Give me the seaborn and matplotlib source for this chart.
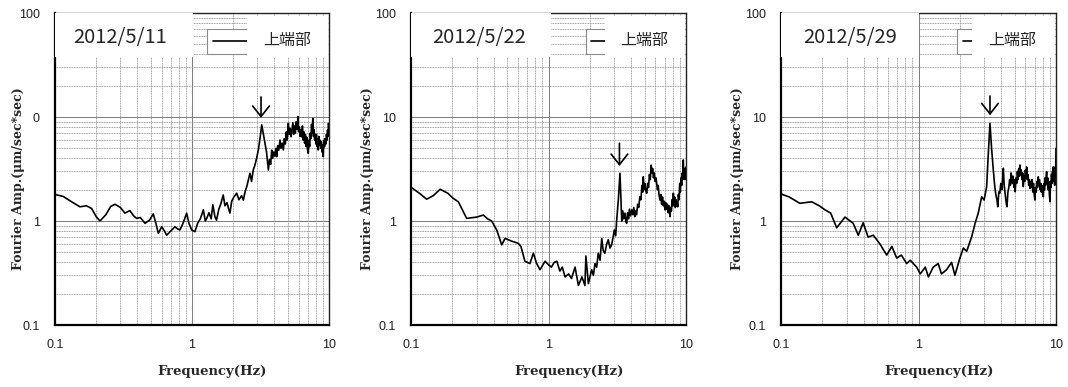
import numpy as np
import pandas as pd
import matplotlib
matplotlib.use('Agg')
import matplotlib.pyplot as plt
import seaborn as sns
from matplotlib.patches import Rectangle
from matplotlib.ticker import FixedLocator, LogLocator, NullFormatter

# ---- data ----
dates = ['2012/5/11', '2012/5/22', '2012/5/29']
series_name = '上端部'
x_ticks = [0.1, 1, 10]
x_tick_labels = ['0.1', '1', '10']
y_ticks = [0.1, 1, 10, 100]
y_tick_labels = [['0.1', '1', '0', '100'],
                 ['0.1', '1', '10', '100'],
                 ['0.1', '1', '10', '100']]

freq_a = [0.100, 0.115, 0.130, 0.152, 0.170, 0.185, 0.200, 0.213, 0.235, 0.255,
          0.274, 0.300, 0.324, 0.352, 0.375, 0.394, 0.420, 0.454, 0.490, 0.522,
          0.545, 0.568, 0.601, 0.630, 0.653, 0.700, 0.751, 0.785, 0.817, 0.860,
          0.914, 0.950, 0.995, 1.05, 1.10, 1.15, 1.21, 1.25, 1.28, 1.33,
          1.38, 1.42, 1.47, 1.51, 1.57, 1.62, 1.69, 1.74, 1.80, 1.89,
          1.95, 2.02, 2.12, 2.20, 2.30, 2.37, 2.45, 2.51, 2.58, 2.65,
          2.72, 2.80, 2.88, 2.96, 3.05, 3.15, 3.23, 3.32, 3.41, 3.50,
          3.61, 3.68, 3.75, 3.82, 3.88, 3.95, 4.02, 4.10, 4.15, 4.22,
          4.30, 4.39, 4.46, 4.55, 4.64, 4.72, 4.80, 4.88, 4.95, 5.05,
          5.12, 5.20, 5.28, 5.36, 5.45, 5.52, 5.60, 5.68, 5.76, 5.85,
          5.93, 6.00, 6.08, 6.16, 6.24, 6.32, 6.40, 6.48, 6.56, 6.64,
          6.72, 6.80, 6.88, 6.96, 7.06, 7.14, 7.22, 7.30, 7.38, 7.46,
          7.54, 7.62, 7.70, 7.78, 7.86, 7.94, 8.02, 8.10, 8.18, 8.26,
          8.35, 8.44, 8.52, 8.60, 8.70, 8.80, 8.90, 9.00, 9.08, 9.18,
          9.28, 9.38, 9.48, 9.58, 9.68, 9.76, 9.84, 9.92, 10.0]
amp_a = [1.80, 1.72, 1.55, 1.37, 1.40, 1.32, 1.10, 1.00, 1.15, 1.38,
         1.45, 1.35, 1.19, 1.26, 1.12, 1.06, 1.08, 0.95, 1.02, 1.17,
         0.95, 0.76, 0.88, 0.80, 0.73, 0.80, 0.88, 0.84, 0.82, 0.95,
         1.19, 0.95, 0.82, 0.79, 0.95, 1.05, 1.28, 1.00, 1.06, 1.20,
         1.05, 1.43, 1.10, 1.02, 1.30, 1.45, 1.78, 1.40, 1.50, 1.19,
         1.55, 1.70, 1.85, 1.60, 1.75, 1.59, 1.95, 2.14, 2.50, 2.88,
         2.40, 3.10, 3.45, 4.00, 4.82, 6.50, 8.40, 6.80, 5.58, 4.60,
         3.09, 3.90, 3.50, 4.80, 4.00, 4.60, 4.20, 5.00, 4.15, 5.30,
         4.80, 6.00, 5.00, 5.60, 4.82, 6.20, 5.50, 7.20, 6.00, 8.70,
         6.80, 7.80, 6.45, 7.50, 8.80, 6.80, 8.20, 7.00, 9.00, 7.60,
         10.1, 7.20, 8.00, 6.50, 7.50, 6.45, 8.20, 6.00, 7.20, 5.60,
         6.80, 5.20, 6.40, 4.90, 4.48, 6.00, 5.20, 7.00, 6.20, 8.50,
         7.00, 9.70, 6.50, 7.60, 6.00, 6.80, 5.50, 6.80, 5.20, 6.20,
         4.82, 6.50, 5.40, 6.00, 5.00, 5.80, 4.60, 5.40, 4.15, 6.00,
         5.20, 6.20, 5.50, 6.80, 6.00, 7.50, 6.50, 8.70, 7.50]

freq_b = [0.100, 0.115, 0.130, 0.145, 0.163, 0.185, 0.203, 0.221, 0.254, 0.300,
          0.336, 0.360, 0.386, 0.420, 0.457, 0.483, 0.540, 0.603, 0.630, 0.674,
          0.733, 0.776, 0.820, 0.867, 0.944, 1.00, 1.05, 1.10, 1.15, 1.21,
          1.26, 1.32, 1.40, 1.47, 1.56, 1.65, 1.75, 1.84, 1.87, 1.95,
          2.06, 2.12, 2.18, 2.24, 2.30, 2.37, 2.44, 2.50, 2.57, 2.65,
          2.72, 2.80, 2.88, 2.95, 3.01, 3.08, 3.13, 3.22, 3.31, 3.41,
          3.47, 3.53, 3.60, 3.65, 3.70, 3.76, 3.82, 3.88, 3.95, 4.03,
          4.10, 4.17, 4.24, 4.30, 4.37, 4.45, 4.53, 4.62, 4.70, 4.78,
          4.84, 4.89, 4.95, 5.02, 5.10, 5.18, 5.26, 5.34, 5.42, 5.50,
          5.58, 5.65, 5.72, 5.80, 5.88, 5.96, 6.04, 6.12, 6.20, 6.28,
          6.36, 6.47, 6.56, 6.65, 6.75, 6.85, 6.94, 7.03, 7.12, 7.22,
          7.32, 7.42, 7.52, 7.65, 7.74, 7.83, 7.92, 8.00, 8.09, 8.18,
          8.27, 8.36, 8.45, 8.55, 8.63, 8.70, 8.80, 8.90, 9.00, 9.10,
          9.20, 9.30, 9.40, 9.48, 9.55, 9.65, 9.72, 9.80, 9.88, 9.95,
          10.0]
amp_b = [2.11, 1.85, 1.62, 1.75, 2.02, 1.85, 1.65, 1.53, 1.06, 1.09,
         1.14, 1.05, 1.00, 0.82, 0.59, 0.68, 0.64, 0.61, 0.57, 0.41,
         0.39, 0.49, 0.39, 0.34, 0.41, 0.38, 0.36, 0.40, 0.41, 0.33,
         0.36, 0.29, 0.31, 0.28, 0.36, 0.24, 0.29, 0.24, 0.46, 0.25,
         0.34, 0.30, 0.39, 0.36, 0.49, 0.42, 0.68, 0.52, 0.49, 0.60,
         0.66, 0.55, 0.59, 0.70, 0.82, 0.72, 1.00, 1.60, 2.88, 1.00,
         1.25, 1.05, 1.19, 1.00, 0.95, 1.20, 1.05, 1.30, 1.12, 1.28,
         1.15, 1.35, 1.10, 1.25, 1.15, 1.45, 1.35, 1.71, 1.60, 2.20,
         1.90, 2.66, 2.00, 2.30, 1.95, 1.85, 2.30, 2.10, 2.80, 2.50,
         3.45, 2.90, 3.20, 2.60, 2.90, 2.40, 2.60, 2.30, 2.00, 2.20,
         1.80, 1.59, 1.80, 1.45, 1.70, 1.40, 1.55, 1.28, 1.50, 1.30,
         1.45, 1.20, 1.40, 1.10, 1.35, 1.25, 1.60, 1.40, 1.85, 1.50,
         1.70, 1.35, 1.60, 1.40, 1.50, 1.37, 1.80, 1.60, 2.30, 1.90,
         2.60, 2.20, 2.90, 2.50, 3.86, 2.70, 3.20, 2.50, 3.00, 2.60,
         3.30]

freq_c = [0.100, 0.115, 0.137, 0.167, 0.190, 0.209, 0.230, 0.254, 0.292, 0.335,
          0.365, 0.396, 0.430, 0.469, 0.525, 0.587, 0.640, 0.694, 0.750, 0.821,
          0.870, 0.970, 1.03, 1.12, 1.18, 1.28, 1.39, 1.47, 1.60, 1.74,
          1.84, 2.00, 2.12, 2.24, 2.44, 2.58, 2.72, 2.88, 3.00, 3.13,
          3.22, 3.31, 3.40, 3.50, 3.58, 3.65, 3.72, 3.77, 3.84, 3.90,
          3.97, 4.04, 4.10, 4.14, 4.20, 4.27, 4.34, 4.40, 4.47, 4.54,
          4.60, 4.66, 4.71, 4.76, 4.82, 4.88, 4.94, 5.00, 5.05, 5.12,
          5.18, 5.24, 5.30, 5.36, 5.42, 5.47, 5.53, 5.59, 5.65, 5.72,
          5.78, 5.85, 5.92, 5.99, 6.05, 6.12, 6.19, 6.26, 6.33, 6.40,
          6.47, 6.55, 6.62, 6.70, 6.78, 6.86, 6.94, 7.03, 7.10, 7.18,
          7.26, 7.34, 7.43, 7.50, 7.58, 7.66, 7.74, 7.82, 7.90, 8.00,
          8.09, 8.17, 8.25, 8.33, 8.40, 8.48, 8.55, 8.63, 8.71, 8.79,
          8.87, 8.95, 9.04, 9.12, 9.20, 9.28, 9.36, 9.44, 9.50, 9.55,
          9.62, 9.70, 9.78, 9.85, 9.92, 9.97, 10.0]
amp_c = [1.82, 1.70, 1.48, 1.53, 1.40, 1.28, 1.19, 0.86, 1.09, 0.95,
         0.73, 0.96, 0.70, 0.73, 0.60, 0.47, 0.57, 0.44, 0.47, 0.39,
         0.42, 0.36, 0.31, 0.36, 0.29, 0.36, 0.39, 0.31, 0.34, 0.40,
         0.30, 0.44, 0.55, 0.51, 0.71, 0.95, 1.19, 1.71, 1.59, 2.14,
         4.50, 8.70, 5.00, 3.09, 2.20, 1.80, 1.60, 1.37, 1.90, 1.85,
         2.30, 2.00, 2.60, 3.21, 2.20, 1.80, 1.50, 1.37, 1.90, 2.10,
         2.50, 2.20, 2.90, 2.66, 2.30, 2.70, 2.10, 2.50, 1.91, 2.60,
         2.30, 3.00, 2.50, 3.20, 2.70, 3.45, 2.80, 3.10, 2.50, 2.90,
         2.14, 2.70, 2.40, 3.10, 2.60, 3.31, 2.50, 2.80, 2.20, 2.50,
         2.06, 2.40, 2.10, 2.50, 1.90, 2.30, 1.80, 1.59, 2.10, 1.90,
         2.40, 2.10, 2.66, 2.20, 2.50, 2.00, 2.30, 1.90, 2.20, 1.80,
         1.71, 2.30, 2.00, 2.60, 2.20, 2.70, 2.98, 2.30, 2.60, 2.00,
         2.40, 1.80, 1.53, 2.40, 2.10, 2.80, 2.30, 3.00, 2.60, 3.31,
         2.40, 2.90, 2.20, 3.30, 2.60, 4.00, 5.00]

# arrows marking the peak (tip and tail amplitude)
arrow_freq = [3.19, 3.28, 3.31]
arrow_tip = [9.8, 3.38, 10.4]
arrow_tail = [15.6, 5.6, 15.9]

freqs = [freq_a, freq_b, freq_c]
amps = [amp_a, amp_b, amp_c]

# ---- layout (pixels of a 1068x387 canvas) ----
W, H = 1068, 387
ax_left = [55, 411, 781]
ax_width = [274, 275, 275]
ax_top, ax_bottom = 13, 325
ylabel_x = [-0.11, -0.135, -0.135]
date_box_w = [0.504, 0.51, 0.50]
date_text_x = [0.066, 0.076, 0.08]
legend_x = [0.555, 0.636, 0.64]
handle_len = [3.0, 2.0, 2.0]
label_box_x = [0.70, 0.705, 0.696]
label_text_x = [0.76, 0.76, 0.753]

sns.set_style('white')
plt.rcParams['font.family'] = ['Liberation Sans', 'DejaVu Sans']

fig = plt.figure(figsize=(W / 100, H / 100), dpi=100)

for i in range(3):
    ax = fig.add_axes([ax_left[i] / W, 1 - ax_bottom / H,
                       ax_width[i] / W, (ax_bottom - ax_top) / H])
    ax.set_xscale('log')
    ax.set_yscale('log')
    df = pd.DataFrame({'freq': freqs[i], 'amp': amps[i]})
    sns.lineplot(data=df, x='freq', y='amp', ax=ax, color='black',
                 linewidth=1.2, estimator=None, sort=False, label=series_name,
                 zorder=3, legend=False)
    ax.set_xlim(0.1, 10)
    ax.set_ylim(0.1, 100)

    ax.xaxis.set_major_locator(FixedLocator(x_ticks))
    ax.set_xticklabels(x_tick_labels)
    ax.yaxis.set_major_locator(FixedLocator(y_ticks))
    ax.set_yticklabels(y_tick_labels[i])
    ax.xaxis.set_minor_locator(LogLocator(base=10, subs=np.arange(2, 10)))
    ax.yaxis.set_minor_locator(LogLocator(base=10, subs=np.arange(2, 10)))
    ax.xaxis.set_minor_formatter(NullFormatter())
    ax.yaxis.set_minor_formatter(NullFormatter())
    ax.tick_params(which='both', length=0, labelsize=9, colors='#222222')
    ax.tick_params(axis='x', pad=10)
    ax.tick_params(axis='y', pad=11)

    ax.grid(True, which='major', color='#7a7a7a', linewidth=0.7)
    ax.grid(True, which='minor', color='#8e8e8e', linewidth=0.6, linestyle=(0, (1.2, 0.8)))
    ax.set_axisbelow(True)
    for side in ['left', 'bottom']:
        ax.spines[side].set_linewidth(1.6)
        ax.spines[side].set_color('black')
    for side in ['top', 'right']:
        ax.spines[side].set_linewidth(1.0)
        ax.spines[side].set_color('#222222')

    ax.set_xlabel('Frequency(Hz)', fontsize=9.5, fontweight='bold',
                  family='DejaVu Serif')
    ax.xaxis.set_label_coords(0.5 + 20 / 274, -0.128)
    ax.set_ylabel('Fourier Amp.(μm/sec*sec)', fontsize=9, fontweight='bold',
                  family='DejaVu Serif')
    ax.yaxis.set_label_coords(ylabel_x[i], 0.47)

    # white box with the date
    ax.add_patch(Rectangle((0, 0.859), date_box_w[i], 0.141, transform=ax.transAxes,
                           facecolor='white', edgecolor='none', zorder=4))
    ax.text(date_text_x[i], 0.92, dates[i], transform=ax.transAxes,
            fontsize=14.5, va='center', ha='left', family='Noto Sans CJK JP', zorder=5)

    # legend: frame with the line key, its label sits in a white box to the right
    handle = ax.get_lines()[0]
    leg = ax.legend([handle], [''], loc='upper left',
                    bbox_to_anchor=(legend_x[i], 0.949), borderaxespad=0,
                    fancybox=False, framealpha=1, edgecolor='#8a8a8a',
                    handlelength=handle_len[i], handletextpad=0.2,
                    prop={'family': 'Noto Sans CJK JP', 'size': 10},
                    borderpad=0.4)
    leg.get_frame().set_linewidth(0.8)
    leg.set_zorder(5)
    ax.add_patch(Rectangle((label_box_x[i], 0.859), 0.995 - label_box_x[i], 0.13,
                           transform=ax.transAxes, facecolor='white',
                           edgecolor='none', zorder=6))
    ax.text(label_text_x[i], 0.912, series_name, transform=ax.transAxes,
            fontsize=11.5, va='center', ha='left', family='Noto Sans CJK JP', zorder=7)

    ax.annotate('', xy=(arrow_freq[i], arrow_tip[i]),
                xytext=(arrow_freq[i], arrow_tail[i]),
                arrowprops=dict(arrowstyle='->,head_length=0.38,head_width=0.3',
                                color='black', lw=1.2,
                                mutation_scale=20, shrinkA=0, shrinkB=0),
                zorder=8)

plt.savefig('out.png', dpi=100)
